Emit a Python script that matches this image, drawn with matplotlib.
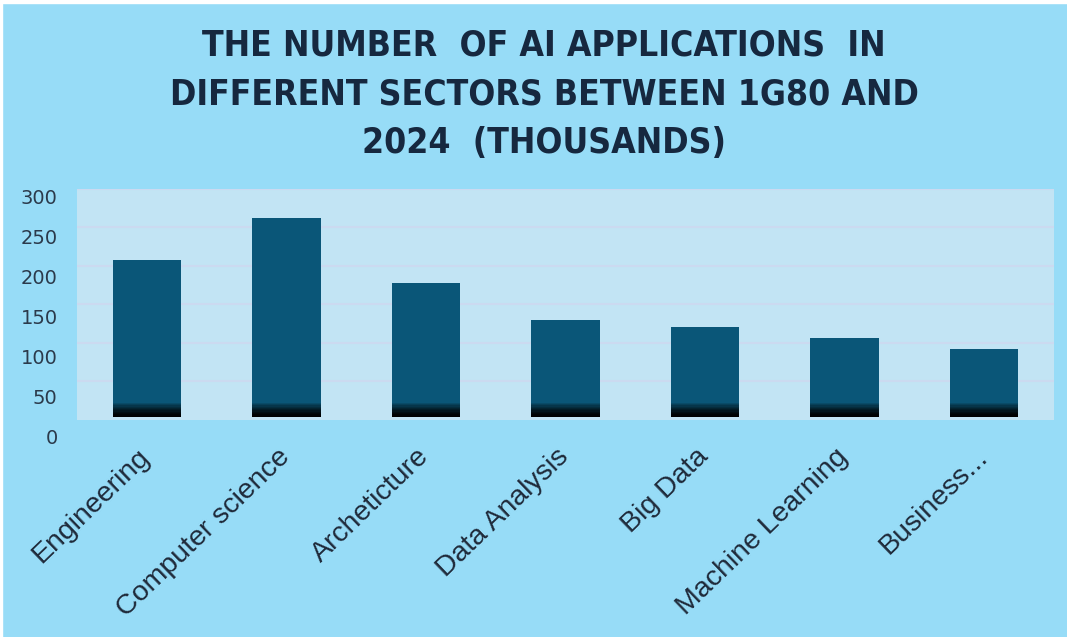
import numpy as np
import matplotlib.pyplot as plt
import matplotlib.colors as mcolors
from matplotlib import font_manager
from matplotlib.transforms import ScaledTranslation

categories = ['Engineering', 'Computer science', 'Archeticture', 'Data Analysis',
              'Big Data', 'Machine Learning', 'Business...']
values = [208, 262, 178, 130, 121, 107, 92]
yticks = [0, 50, 100, 150, 200, 250, 300]
title = 'THE NUMBER  OF AI APPLICATIONS  IN\nDIFFERENT SECTORS BETWEEN 1G80 AND\n2024  (THOUSANDS)'

bg = '#97dcf7'
panel = '#c2e4f4'
bar_color = '#0a5678'
text_color = '#16283f'

# pick a narrow bold face for the title if one is around
cands = [f for f in font_manager.fontManager.ttflist
         if ('Narrow' in f.name or 'Condensed' in f.name or 'Condensed' in f.fname)
         and (f.weight in ('bold', 'heavy', 'black') or
              (isinstance(f.weight, int) and f.weight >= 600))
         and f.style == 'normal']
cands.sort(key=lambda f: abs((f.weight if isinstance(f.weight, int) else 700) - 700))
if cands:
    title_font = font_manager.FontProperties(fname=cands[0].fname, size=25.5)
else:
    title_font = font_manager.FontProperties(family=['Lato', 'DejaVu Sans'],
                                             weight='bold', size=24)

fig = plt.figure(figsize=(10.67, 6.37), dpi=100, facecolor=bg)

# main plot panel
ax = fig.add_axes([0.0722, 0.3407, 0.9156, 0.3626])
ax.set_facecolor(panel)
x = np.arange(len(categories))
base = 4
width = 0.49
ax.bar(x, np.array(values) - base, bottom=base, width=width, color=bar_color, zorder=3)

# dark shadow at the foot of each bar
shade = 20
steps = 12
for k in range(steps):
    t = 1 - k / (steps - 1)
    c = mcolors.to_rgb(bar_color)
    col = tuple(ci * (1 - t) ** 1.5 for ci in c)
    ax.bar(x, shade / steps, bottom=base + k * shade / steps, width=width,
           color=col, zorder=4, linewidth=0)

ax.set_xlim(-0.5, len(categories) - 0.5)
ax.set_ylim(0, 300)
ax.set_yticks(yticks[1:])
ax.yaxis.grid(True, color='#cbdaf0', linewidth=1.5, zorder=0)
ax.tick_params(axis='y', length=0, labelleft=False)
ax.set_xticks(x)
ax.set_xticklabels(categories, rotation=44, ha='right', rotation_mode='anchor',
                   fontsize=20.5, color='#1f2a3a', family='Liberation Sans')
ax.tick_params(axis='x', length=0, pad=17)
shift = ScaledTranslation(-7 / 72, 0, fig.dpi_scale_trans)
for lbl in ax.get_xticklabels():
    lbl.set_transform(lbl.get_transform() + shift)
for s in ax.spines.values():
    s.set_visible(False)

# value labels (offset scale as in the original)
lab = fig.add_axes([0.0722, 0.3140, 0.9156, 0.3783])
lab.patch.set_visible(False)
lab.set_ylim(0, 300)
lab.set_yticks(yticks)
lab.set_xticks([])
lab.tick_params(axis='y', length=0, pad=14, labelsize=14, labelcolor='#2b3a4b')
for s in lab.spines.values():
    s.set_visible(False)

fig.text(0.51, 0.955, title, ha='center', va='top', fontproperties=title_font,
         color=text_color, linespacing=1.55)

# white edge at top and left
fig.patches.append(plt.Rectangle((0, 0.995), 1, 0.005, transform=fig.transFigure,
                                 color='white', zorder=10))
fig.patches.append(plt.Rectangle((0, 0), 0.002, 1, transform=fig.transFigure,
                                 color='white', zorder=10))

fig.savefig('out.png', dpi=100, facecolor=bg)
